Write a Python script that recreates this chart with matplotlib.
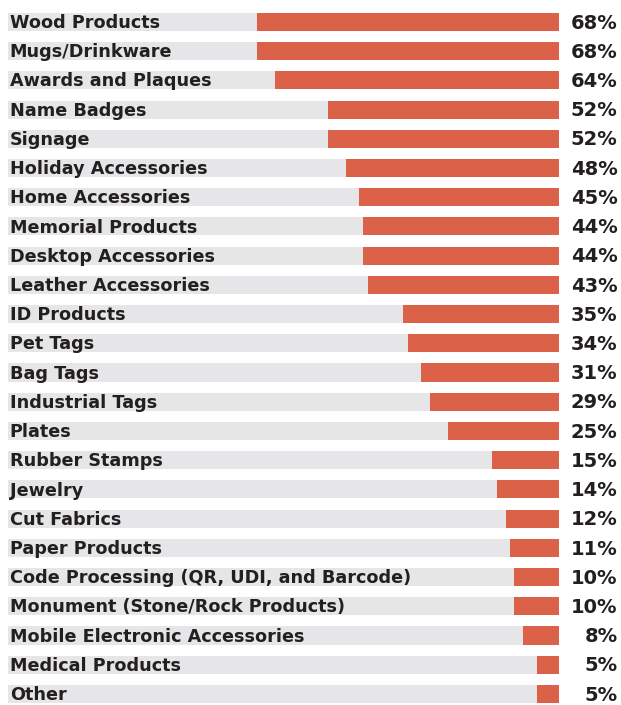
import matplotlib
matplotlib.use("Agg")
import matplotlib.pyplot as plt

# --- DATA ---
categories = [
    "Wood Products", "Mugs/Drinkware", "Awards and Plaques", "Name Badges",
    "Signage", "Holiday Accessories", "Home Accessories", "Memorial Products",
    "Desktop Accessories", "Leather Accessories", "ID Products", "Pet Tags",
    "Bag Tags", "Industrial Tags", "Plates", "Rubber Stamps", "Jewelry",
    "Cut Fabrics", "Paper Products", "Code Processing (QR, UDI, and Barcode)",
    "Monument (Stone/Rock Products)", "Mobile Electronic Accessories",
    "Medical Products", "Other",
]
values = [68, 68, 64, 52, 52, 48, 45, 44, 44, 43, 35, 34, 31, 29, 25,
          15, 14, 12, 11, 10, 10, 8, 5, 5]

# --- STYLE ---
orange = "#DB6148"
track_gray = "#E6E6E8"
text_color = "#231F20"
track_len = 124          # grey track length, in percent units
font = "DejaVu Sans"

fig = plt.figure(figsize=(6.21, 7.05), dpi=100)
ax = fig.add_axes([0, 0, 1, 1])

rows = list(range(len(categories)))
bar_h = 0.62

ax.barh(rows, [track_len] * len(rows), left=0, height=bar_h,
        color=track_gray, zorder=1)
ax.barh(rows, values, left=[track_len - v for v in values], height=bar_h,
        color=orange, zorder=2)

# baseline offsets put the capitals centred on each bar
for r, (cat, v) in enumerate(zip(categories, values)):
    ax.text(0.4, r + 0.21, cat, ha="left", va="baseline", fontsize=12.7,
            fontweight="bold", family=font, color=text_color, zorder=3)
    ax.text(137.2, r + 0.23, f"{v}%", ha="right", va="baseline", fontsize=14,
            fontweight="bold", family=font, color=text_color, zorder=3)

ax.set_xlim(-1.8, 138)
ax.set_ylim(23.38, -0.75)
ax.axis("off")

fig.savefig("out.png", dpi=100)
